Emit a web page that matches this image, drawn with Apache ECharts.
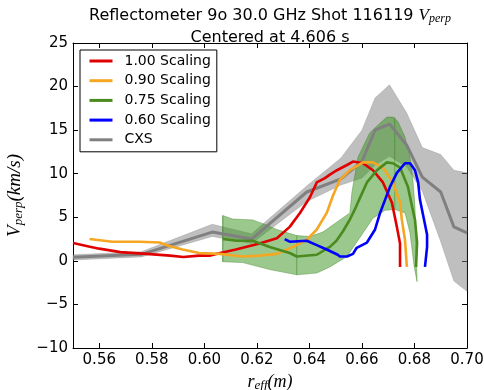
<!DOCTYPE html>
<html>
<head>
<meta charset="utf-8">
<script src="https://cdn.jsdelivr.net/npm/echarts@6/dist/echarts.min.js"></script>
<style>html,body{margin:0;padding:0;background:#fff}#c{width:484px;height:390px}</style>
</head>
<body>
<div id="c"></div>
<script>
// ---- tick labels ----
const xTicks = [0.56, 0.58, 0.60, 0.62, 0.64, 0.66, 0.68, 0.70];
const yTicks = [-10, -5, 0, 5, 10, 15, 20, 25];

// ---- CXS (gray) ----
const cxsX  = [0.550, 0.576, 0.603, 0.618, 0.639, 0.652, 0.660, 0.665, 0.6705, 0.677, 0.683, 0.690, 0.695, 0.700];
const cxsV  = [0.40, 0.75, 3.3, 2.5, 7.9, 9.4, 11.4, 15.0, 15.7, 13.3, 9.6, 7.9, 3.9, 3.2];
const cxsHi = [0.70, 1.05, 4.2, 3.1, 8.6, 11.8, 15.0, 18.7, 20.2, 17.0, 13.0, 12.2, 10.4, 10.1];
const cxsLo = [0.10, 0.45, 2.8, 2.0, 6.8, 8.7, 9.5, 11.0, 12.0, 10.8, 8.0, 2.2, -2.3, -3.5];

// ---- 1.00 Scaling (red) ----
const redX = [0.550, 0.556, 0.560, 0.568, 0.578, 0.587, 0.592, 0.598, 0.602, 0.606, 0.612, 0.621, 0.6276, 0.6325, 0.6364, 0.6402, 0.6428, 0.6459, 0.6478, 0.6505, 0.6543, 0.6566, 0.6604, 0.6642, 0.668, 0.6714, 0.6733, 0.6745, 0.6745];
const redY = [2.05, 1.65, 1.4, 1.0, 0.8, 0.6, 0.45, 0.6, 0.6, 0.9, 1.3, 2.0, 2.6, 3.9, 5.5, 7.3, 9.0, 9.5, 9.9, 10.4, 11.0, 11.4, 11.2, 10.4, 9.0, 6.7, 3.9, 2.0, -0.7];

// ---- 0.90 Scaling (orange) ----
const orX = [0.5563, 0.565, 0.5754, 0.583, 0.5856, 0.5917, 0.598, 0.6058, 0.6146, 0.6211, 0.6276, 0.6337, 0.639, 0.6428, 0.6466, 0.649, 0.6516, 0.6554, 0.6604, 0.6642, 0.668, 0.6718, 0.6745, 0.6752, 0.6764, 0.6771];
const orY = [2.5, 2.2, 2.2, 2.1, 1.8, 1.3, 0.9, 0.8, 0.5, 0.6, 0.8, 1.6, 2.4, 3.6, 5.5, 7.5, 9.3, 10.4, 11.3, 11.3, 10.7, 9.0, 6.7, 4.7, 2.4, -0.7];

// ---- 0.75 Scaling (green) ----
const grX = [0.607, 0.6123, 0.6184, 0.6249, 0.6325, 0.6352, 0.6428, 0.6478, 0.6503, 0.6528, 0.6555, 0.6573, 0.6592, 0.6619, 0.6657, 0.6695, 0.6718, 0.6745, 0.6775, 0.6791, 0.6802, 0.681, 0.6806];
const grY = [2.5, 2.3, 2.3, 1.6, 0.9, 0.5, 0.7, 1.6, 2.3, 3.4, 4.8, 5.9, 7.2, 9.0, 10.4, 11.3, 11.2, 10.7, 8.5, 6.2, 4.7, 2.1, -0.7];

// green uncertainty band outline
const gbTopX = [0.6070, 0.6108, 0.6184, 0.6238, 0.6276, 0.6352, 0.6402, 0.6451, 0.6516, 0.6554, 0.6562, 0.6585, 0.663, 0.6669, 0.6695, 0.6718, 0.6737, 0.6764, 0.6783, 0.6794, 0.6802, 0.6806, 0.681];
const gbTopY = [5.2, 4.8, 4.7, 4.1, 3.6, 2.9, 2.8, 3.3, 4.7, 5.5, 7.9, 11.9, 14.7, 15.8, 16.5, 16.5, 16.0, 14.2, 11.9, 9.3, 6.2, 2.0, -2.4];
const gbBotX = [0.6799, 0.6783, 0.6764, 0.6726, 0.6688, 0.6642, 0.6604, 0.6543, 0.6478, 0.6428, 0.6352, 0.6249, 0.6146, 0.6070];
const gbBotY = [-0.7, 3.2, 5.5, 5.9, 5.8, 4.9, 3.2, 0.5, -0.7, -1.4, -1.6, -1.0, -0.2, -0.1];
const gbEdgeX = [0.6070, 0.6352, 0.6725];
const gbEdgeTop = [5.2, 2.9, 16.5];
const gbEdgeBot = [-0.1, -1.6, 5.9];

// ---- 0.60 Scaling (blue) ----
const blX = [0.6306, 0.6325, 0.639, 0.6428, 0.6466, 0.6508, 0.6516, 0.6543, 0.6566, 0.658, 0.6619, 0.665, 0.6669, 0.6688, 0.6707, 0.6733, 0.6764, 0.6783, 0.6802, 0.6814, 0.6821, 0.6838, 0.6848, 0.6848, 0.684];
const blY = [2.5, 2.2, 2.3, 1.8, 1.3, 0.7, 0.5, 0.5, 0.8, 1.5, 2.1, 3.6, 5.5, 7.0, 8.5, 10.1, 11.2, 11.2, 10.4, 9.0, 7.0, 4.5, 3.0, 1.6, -0.7];

const zip = (a, b) => a.map((v, i) => [v, b[i]]);
const mathFont = '"Liberation Serif", "DejaVu Serif", serif';
const sansFont = '"DejaVu Sans", sans-serif';

function bandSeries(name, poly, fill, stroke, edges) {
  return {
    type: 'custom', name: name, silent: true,
    xAxisIndex: 0, yAxisIndex: 0,
    data: [poly[0]],
    renderItem: function (params, api) {
      const pts = poly.map(p => api.coord(p));
      const children = [{
        type: 'polygon', shape: { points: pts },
        style: { fill: fill, stroke: stroke, lineWidth: 0.6 }
      }];
      (edges || []).forEach(e => {
        const a = api.coord(e[0]), b = api.coord(e[1]);
        children.push({ type: 'line', shape: { x1: a[0], y1: a[1], x2: b[0], y2: b[1] },
          style: { stroke: stroke, lineWidth: 0.8 } });
      });
      return { type: 'group', children: children };
    }
  };
}

const grayPoly = zip(cxsX, cxsHi).concat(zip(cxsX, cxsLo).reverse());
const greenPoly = zip(gbTopX, gbTopY).concat(zip(gbBotX, gbBotY));
const greenEdges = gbEdgeX.map((x, i) => [[x, gbEdgeTop[i]], [x, gbEdgeBot[i]]]);

function lineSeries(name, xs, ys, color, w) {
  return {
    type: 'line', name: name, data: zip(xs, ys), showSymbol: false, symbol: 'none',
    lineStyle: { color: color, width: w }, itemStyle: { color: color },
    smooth: false, silent: true, animation: false, clip: true
  };
}

const tickCommon = { inside: true, length: 5, lineStyle: { color: '#000', width: 1 } };
const axisLineCommon = { show: true, onZero: false, lineStyle: { color: '#000', width: 1 } };

const chart = echarts.init(document.getElementById('c'), null, { renderer: 'canvas' });
chart.setOption({
  animation: false,
  backgroundColor: '#fff',
  title: [
    {
      text: 'Reflectometer 9o 30.0 GHz Shot 116119 {v|V}{s|perp}',
      left: 265, top: 1, textAlign: 'center',
      textStyle: {
        fontFamily: sansFont, fontSize: 16, fontWeight: 'normal', color: '#000',
        rich: {
          v: { fontFamily: mathFont, fontStyle: 'italic', fontSize: 17, color: '#000' },
          s: { fontFamily: mathFont, fontStyle: 'italic', fontSize: 12, color: '#000', padding: [7, 0, 0, 0] }
        }
      }
    },
    {
      text: 'Centered at 4.606 s',
      left: 265, top: 25, textAlign: 'center',
      textStyle: { fontFamily: sansFont, fontSize: 16, fontWeight: 'normal', color: '#000' }
    }
  ],
  grid: { left: 73, right: 17, top: 43, bottom: 42, containLabel: false, outerBoundsMode: 'none' },
  legend: {
    orient: 'vertical', left: 80, top: 50,
    data: ['1.00 Scaling', '0.90 Scaling', '0.75 Scaling', '0.60 Scaling', 'CXS'],
    itemWidth: 23, itemHeight: 14, itemGap: 5.7,
    padding: [4, 6, 5, 8],
    borderColor: '#000', borderWidth: 1, backgroundColor: '#fff',
    itemStyle: { opacity: 0 },
    lineStyle: { width: 3 },
    textStyle: { fontFamily: sansFont, fontSize: 14, color: '#000', padding: [0, 0, 0, 7] },
    selectedMode: false
  },
  xAxis: [
    {
      type: 'value', min: 0.55, max: 0.70, position: 'bottom',
      axisLine: axisLineCommon,
      axisTick: Object.assign({ customValues: xTicks }, tickCommon),
      axisLabel: { customValues: xTicks, formatter: v => v.toFixed(2), fontFamily: sansFont, fontSize: 15, color: '#000', margin: 5 },
      splitLine: { show: false },
      name: '{r|r}{s|eff}{r|(m)}', nameLocation: 'middle', nameGap: 24,
      nameTextStyle: {
        rich: {
          r: { fontFamily: mathFont, fontStyle: 'italic', fontSize: 18, color: '#000' },
          s: { fontFamily: mathFont, fontStyle: 'italic', fontSize: 13, color: '#000', padding: [7, 0, 0, 0] }
        }
      }
    },
    {
      type: 'value', min: 0.55, max: 0.70, position: 'top',
      axisLine: axisLineCommon,
      axisTick: Object.assign({ customValues: xTicks }, tickCommon),
      axisLabel: { show: false },
      splitLine: { show: false }
    }
  ],
  yAxis: [
    {
      type: 'value', min: -10, max: 25, interval: 5, position: 'left',
      axisLine: axisLineCommon,
      axisTick: tickCommon,
      axisLabel: { formatter: v => String(v).replace('-', '\u2212'), fontFamily: sansFont, fontSize: 15, color: '#000', margin: 5 },
      splitLine: { show: false },
      name: '{v|V}{s|perp}{v|(km/s)}', nameLocation: 'middle', nameGap: 38, nameRotate: 90,
      nameTextStyle: {
        rich: {
          v: { fontFamily: mathFont, fontStyle: 'italic', fontSize: 19, color: '#000' },
          s: { fontFamily: mathFont, fontStyle: 'italic', fontSize: 13, color: '#000', padding: [8, 0, 0, 0] }
        }
      }
    },
    {
      type: 'value', min: -10, max: 25, interval: 5, position: 'right',
      axisLine: axisLineCommon,
      axisTick: tickCommon,
      axisLabel: { show: false },
      splitLine: { show: false }
    }
  ],
  series: [
    bandSeries('cxsBand', grayPoly, 'rgba(128,128,128,0.5)', 'rgba(128,128,128,0.5)', []),
    bandSeries('greenBand', greenPoly, 'rgba(55,145,25,0.5)', 'rgba(45,120,20,0.6)', greenEdges),
    lineSeries('CXS', cxsX, cxsV, '#808080', 3),
    lineSeries('1.00 Scaling', redX, redY, '#e00000', 2.6),
    lineSeries('0.90 Scaling', orX, orY, '#f5a623', 2.6),
    lineSeries('0.75 Scaling', grX, grY, '#4a8a1e', 2.6),
    lineSeries('0.60 Scaling', blX, blY, '#0000ff', 2.6)
  ]
});
</script>
</body>
</html>
